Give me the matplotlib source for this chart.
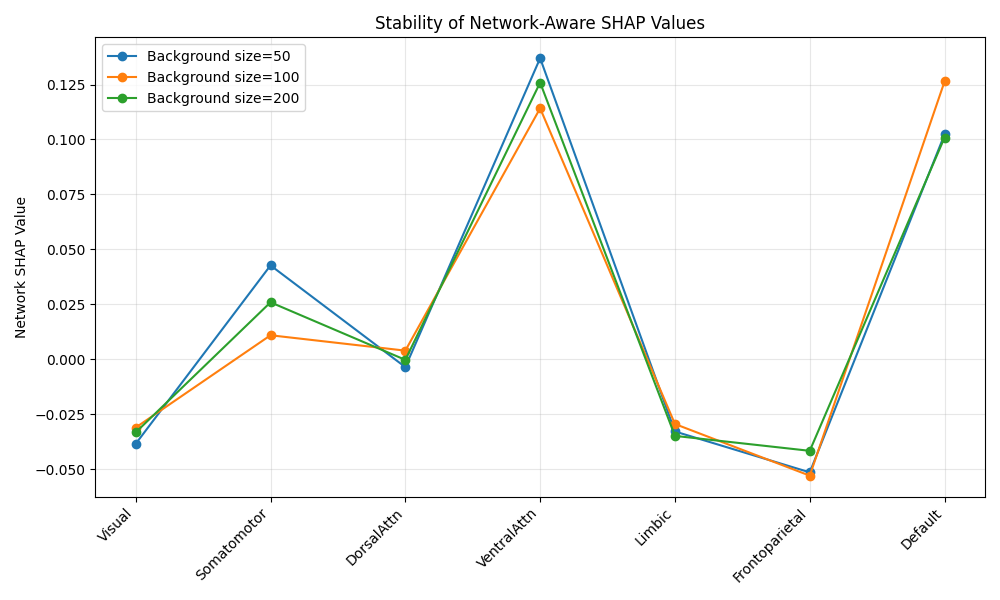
import matplotlib
matplotlib.use("Agg")
import matplotlib.pyplot as plt

networks = ["Visual", "Somatomotor", "DorsalAttn", "VentralAttn", "Limbic", "Frontoparietal", "Default"]
bg_sizes = [50, 100, 200]
shap_50 = [-0.0385, 0.0427, -0.0036, 0.1370, -0.0329, -0.0515, 0.1023]
shap_100 = [-0.0311, 0.0109, 0.0039, 0.1142, -0.0295, -0.0530, 0.1264]
shap_200 = [-0.0333, 0.0259, -0.0003, 0.1259, -0.0349, -0.0417, 0.1009]

fig, ax = plt.subplots(figsize=(10, 6), dpi=100)
for size, vals in zip(bg_sizes, [shap_50, shap_100, shap_200]):
    ax.plot(networks, vals, marker="o", label=f"Background size={size}")

ax.set_ylabel("Network SHAP Value")
ax.set_title("Stability of Network-Aware SHAP Values")
ax.grid(True, alpha=0.3)
ax.legend(loc="upper left")
plt.setp(ax.get_xticklabels(), rotation=45, ha="right")
plt.tight_layout()
plt.savefig("out.png")
